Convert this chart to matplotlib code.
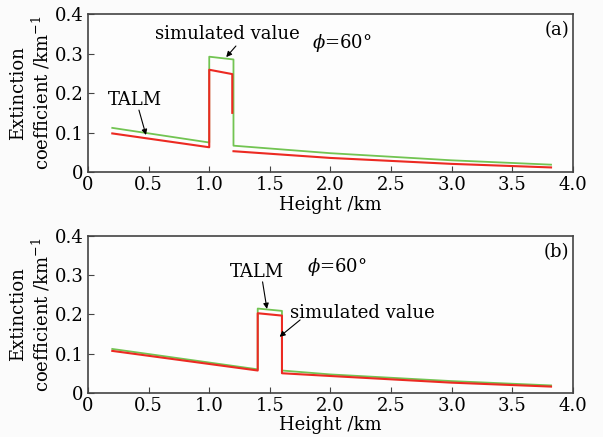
import matplotlib.pyplot as plt

plt.rcParams['font.family'] = ['DejaVu Serif']
plt.rcParams['mathtext.fontset'] = 'dejavuserif'

# panel (a): layer between 1.0 and 1.2 km
a_sim_x = [0.2, 1.0, 1.0, 1.2, 1.2, 2.0, 3.0, 3.82]
a_sim_y = [0.112, 0.075, 0.292, 0.285, 0.067, 0.048, 0.030, 0.019]
a_talm_x = [0.2, 1.0, 1.0, 1.19, 1.19, None, 1.2, 2.0, 3.0, 3.82]
a_talm_y = [0.098, 0.063, 0.259, 0.248, 0.150, None, 0.053, 0.036, 0.021, 0.012]

# panel (b): layer between 1.4 and 1.6 km
b_sim_x = [0.2, 1.4, 1.4, 1.6, 1.6, 2.0, 3.0, 3.82]
b_sim_y = [0.112, 0.060, 0.215, 0.209, 0.057, 0.047, 0.030, 0.019]
b_talm_x = [0.2, 1.4, 1.4, 1.6, 1.6, 2.0, 3.0, 3.82]
b_talm_y = [0.107, 0.057, 0.203, 0.197, 0.050, 0.043, 0.026, 0.016]

green = '#72c452'
red = '#ec2a22'

fig = plt.figure(figsize=(6.03, 4.37), dpi=100)
fig.patch.set_facecolor('#fbfbfb')
ax1 = fig.add_axes([0.146, 0.606, 0.804, 0.362])
ax2 = fig.add_axes([0.146, 0.101, 0.804, 0.359])


def clean(xs, ys):
    import numpy as np
    return ([np.nan if v is None else v for v in xs],
            [np.nan if v is None else v for v in ys])


for ax, sx, sy, tx, ty in [(ax1, a_sim_x, a_sim_y, a_talm_x, a_talm_y),
                           (ax2, b_sim_x, b_sim_y, b_talm_x, b_talm_y)]:
    ax.set_facecolor('#fdfdfd')
    ax.plot(*clean(sx, sy), color=green, lw=1.3)
    ax.plot(*clean(tx, ty), color=red, lw=1.5)
    ax.set_xlim(0, 4)
    ax.set_ylim(0, 0.4)
    ax.set_xticks([0, 0.5, 1, 1.5, 2, 2.5, 3, 3.5, 4])
    ax.set_xticklabels(['0', '0.5', '1.0', '1.5', '2.0', '2.5', '3.0', '3.5', '4.0'])
    ax.set_yticks([0, 0.1, 0.2, 0.3, 0.4])
    ax.set_yticklabels(['0', '0.1', '0.2', '0.3', '0.4'])
    ax.tick_params(direction='in', length=4, labelsize=13, color='#444444', pad=3)
    for s in ax.spines.values():
        s.set_color('#444444')
        s.set_linewidth(1.2)
    ax.set_xlabel('Height /km', fontsize=13, labelpad=1)
    ax.set_ylabel('Extinction\ncoefficient /km$^{-1}$', fontsize=13,
                  linespacing=1.15, labelpad=2)

arrow = dict(arrowstyle='-|>', color='black', lw=0.8, mutation_scale=8,
             shrinkA=0, shrinkB=0)

ax1.text(1.146, 0.349, 'simulated value', fontsize=13, ha='center', va='center')
ax1.annotate('', xy=(1.14, 0.291), xytext=(1.22, 0.319), arrowprops=arrow)
ax1.text(0.39, 0.182, 'TALM', fontsize=13, ha='center', va='center')
ax1.annotate('', xy=(0.478, 0.094), xytext=(0.42, 0.157), arrowprops=arrow)
ax1.text(1.85, 0.327, r'$\phi$=60°', fontsize=13, ha='left', va='center')
ax1.text(3.97, 0.36, '(a)', fontsize=13, ha='right', va='center')

ax2.text(1.39, 0.308, 'TALM', fontsize=13, ha='center', va='center')
ax2.annotate('', xy=(1.476, 0.214), xytext=(1.44, 0.283), arrowprops=arrow)
ax2.text(2.26, 0.204, 'simulated value', fontsize=13, ha='center', va='center')
ax2.annotate('', xy=(1.58, 0.143), xytext=(1.75, 0.186), arrowprops=arrow)
ax2.text(1.81, 0.321, r'$\phi$=60°', fontsize=13, ha='left', va='center')
ax2.text(3.97, 0.36, '(b)', fontsize=13, ha='right', va='center')

fig.savefig('out.png', dpi=100, facecolor=fig.get_facecolor())
